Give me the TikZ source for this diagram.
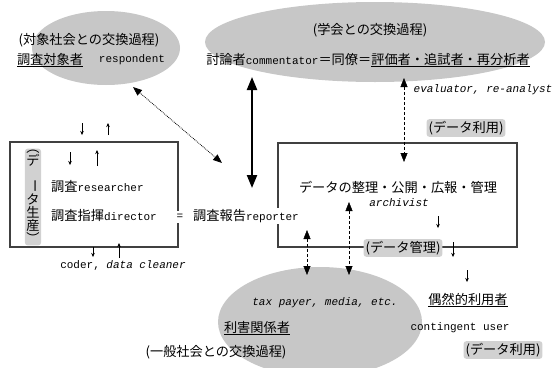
\documentclass[tikz,border=0pt]{standalone}
\usepackage{fontspec}
\setmainfont{Liberation Mono}
\newfontfamily\jp[Scale=1.2]{Noto Sans CJK JP}
\usetikzlibrary{arrows.meta}

\begin{document}
\begin{tikzpicture}[x=1pt,y=-1pt,>={Triangle[length=9pt,width=7pt]},every node/.style={font=\fontsize{11}{13.5}\selectfont,inner sep=1pt}]
	\tikzset{haze/.style={fill=black!22},
		tag/.style={fill=black!18,rounded corners=3pt,inner sep=2pt},
		boxline/.style={draw=black!75,line width=1.1pt},
		flow/.style={-{Stealth[length=4pt,width=3.5pt]},thin}}
	\useasboundingbox (0,0) rectangle (553,367);
	% grey fields of exchange
	\fill[haze] (106,48) ellipse (74 and 37);
	\fill[haze] (375,42) ellipse (170 and 40);
	\fill[haze] (320,322) ellipse (102 and 55);
	% boxes
	\node[boxline,minimum width=168,minimum height=105] (prod) at (94,194.5) {};
	\node[boxline,minimum width=239,minimum height=104] (arch) at (397.5,195) {};
	% texts
	\node (socex) at (89,40) {\jp (対象社会との交換過程)};
	\node (target) at (50,60) {\jp\underline{調査対象者}};
	\node (resp) at (132,60) {respondent};
	\node (acad) at (370,30) {\jp (学会との交換過程)};
	\node (comm) at (368,60) {\jp 討論者{\rmfamily commentator}＝同僚＝\underline{評価者・追試者・再分析者}};
	\node (eval) at (483,90) {\itshape evaluator, re-analyst};
	\node[tag] (use1) at (466,128) {\jp (データ利用)};
	\node[tag,align=center,inner sep=1.5pt,font={\fontsize{11}{13.3}\selectfont\jp}] (gen) at (33,197) {︵\\デ\\\rotatebox{-90}{ー}\\タ\\生\\産\\︶};
	\node[anchor=west] (res) at (50,187) {\jp 調査{\rmfamily researcher}};
	\node[anchor=west] (dir) at (50,216) {\jp 調査指揮{\rmfamily director}};
	\node[fill=white,inner sep=3pt] (eq) at (180,217) {=};
	\node[fill=white,anchor=west] (rep) at (192,216) {\jp 調査報告{\rmfamily reporter}};
	\node (clean) at (123,265) {coder, \textit{data cleaner}};
	\node (org) at (398,187) {\jp データの整理・公開・広報・管理};
	\node (archv) at (399,203) {\itshape archivist};
	\node[tag] (mng) at (403,248) {\jp (データ管理)};
	\node (tax) at (325,303) {\itshape tax payer, media, etc.};
	\node (stake) at (257,328) {\jp\underline{利害関係者}};
	\node (gensoc) at (216,352) {\jp (一般社会との交換過程)};
	\node (casual) at (468,300) {\jp\underline{偶然的利用者}};
	\node (cont) at (460,328) {contingent user};
	\node[tag] (use2) at (503,350) {\jp (データ利用)};
	% ends of the links
	\coordinate (r1) at (133,87);
	\coordinate (r2) at (222,163);
	\coordinate (c1) at (252,77);
	\coordinate (c2) at (252,188);
	\coordinate (e1) at (404,78);
	\coordinate (e2) at (404,162);
	\coordinate (t1) at (307,230);
	\coordinate (t2) at (307,275);
	\coordinate (m1) at (349,202);
	\coordinate (m2) at (349,275);
	% links
	\draw[<->,densely dotted,thick] (r1) -- (r2);
	\draw[{Triangle[length=13pt,width=10pt]}-{Triangle[length=13pt,width=10pt]},line width=2.2pt] (c1) -- (c2);
	\draw[<->,densely dashed] (e1) -- (e2);
	\draw[<->,densely dashed] (t1) -- (t2);
	\draw[<->,densely dashed] (m1) -- (m2);
	% small in and out arrows
	\foreach \x/\ya/\yb in {82/123/135, 108/135/123, 70/152/165, 97/166/150, 93/247/257, 119/258/243, 438/216/228, 453/242/257, 467/270/282}
	\draw[flow] (\x,\ya) -- (\x,\yb);
\end{tikzpicture}
\end{document}
